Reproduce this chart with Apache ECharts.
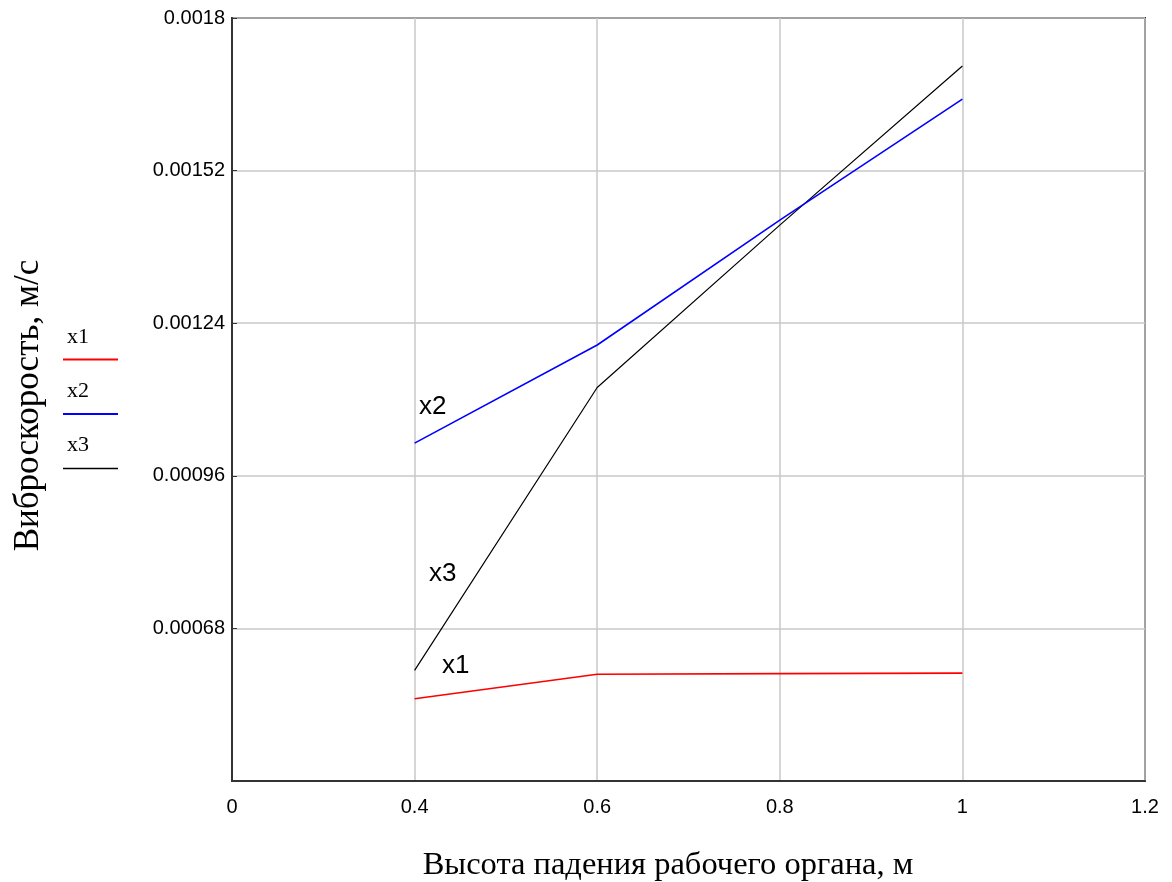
<!DOCTYPE html>
<html><head><meta charset="utf-8">
<script src="https://cdn.jsdelivr.net/npm/echarts@6/dist/echarts.min.js"></script>
<style>html,body{margin:0;padding:0;background:#fff}#c{width:1172px;height:882px}</style>
</head><body><div id="c"></div>
<script>
const xValues = [0.4, 0.6, 0.8, 1.0];
const x1 = [0.000551, 0.000596, 0.000597, 0.000598];
const x2 = [0.00102, 0.0012, 0.001429, 0.001651];
const x3 = [0.000603, 0.001122, 0.00142, 0.001712];
const xTickLabels = ['0', '0.4', '0.6', '0.8', '1', '1.2'];
const yTickLabels = ['', '0.00068', '0.00096', '0.00124', '0.00152', '0.0018'];
const seriesNames = ['x1', 'x2', 'x3'];
const seriesColors = ['#ff0000', '#0000ff', '#000000'];
const seriesData = [x1, x2, x3];

const X_MIN = 0.2, X_MAX = 1.2, X_INT = 0.2;
const Y_MIN = 0.0004, Y_MAX = 0.0018, Y_INT = 0.00028;

const chart = echarts.init(document.getElementById('c'));
const legendGraphics = [];
seriesNames.forEach((n, i) => {
  const top = 326 + i * 54;
  legendGraphics.push({type: 'text', left: 67, top: top,
    style: {text: n, font: '22px "Liberation Serif"', fill: '#000'}});
  legendGraphics.push({type: 'line', shape: {x1: 63, y1: 359.5 + i * 54.5, x2: 118, y2: 359.5 + i * 54.5},
    style: {stroke: seriesColors[i], lineWidth: i === 2 ? 1.3 : 1.8}});
});
const annot = [
  {t: 'x2', x: 419, y: 394},
  {t: 'x3', x: 429, y: 561},
  {t: 'x1', x: 442, y: 653}
];
annot.forEach(a => legendGraphics.push({type: 'text', left: a.x, top: a.y,
  style: {text: a.t, font: '26px "Liberation Sans"', fill: '#000'}}));

chart.setOption({
  animation: false,
  backgroundColor: '#fff',
  grid: {left: 232, right: 27, top: 18, bottom: 101, show: true, borderColor: '#333', borderWidth: 2,
    containLabel: false, outerBoundsMode: 'none'},
  xAxis: {
    type: 'value', min: X_MIN, max: X_MAX, interval: X_INT,
    name: 'Высота падения рабочего органа, м', nameLocation: 'middle', nameGap: 68,
    nameTextStyle: {fontFamily: 'Liberation Serif', fontSize: 32.5, color: '#000', padding: [0, 41, 0, 0]},
    axisLine: {show: true, lineStyle: {color: '#333', width: 2}},
    axisTick: {show: false},
    axisLabel: {margin: 16, fontFamily: 'Liberation Sans', fontSize: 20, color: '#000',
      formatter: v => xTickLabels[Math.round((v - X_MIN) / X_INT)] || ''},
    splitLine: {show: true, lineStyle: {color: '#c8c8c8', width: 1.5}}
  },
  yAxis: {
    type: 'value', min: Y_MIN, max: Y_MAX, interval: Y_INT,
    name: 'Виброскорость, м/с', nameLocation: 'middle', nameGap: 186,
    nameTextStyle: {fontFamily: 'Liberation Serif', fontSize: 35, color: '#000', padding: [0, 12, 0, 0]},
    axisLine: {show: true, lineStyle: {color: '#333', width: 2}},
    axisTick: {show: true, inside: true, length: 5, lineStyle: {color: '#333'}},
    axisLabel: {margin: 7, fontFamily: 'Liberation Sans', fontSize: 20, color: '#000',
      formatter: v => yTickLabels[Math.round((v - Y_MIN) / Y_INT)] || ''},
    splitLine: {show: true, lineStyle: {color: '#c8c8c8', width: 1.5}}
  },
  series: seriesNames.map((n, i) => ({
    name: n, type: 'line', symbol: 'none', z: 3 - i + 2,
    lineStyle: {color: seriesColors[i], width: i === 2 ? 1.2 : 1.6},
    data: xValues.map((x, j) => [x, seriesData[i][j]])
  })),
  graphic: legendGraphics
});
</script></body></html>
